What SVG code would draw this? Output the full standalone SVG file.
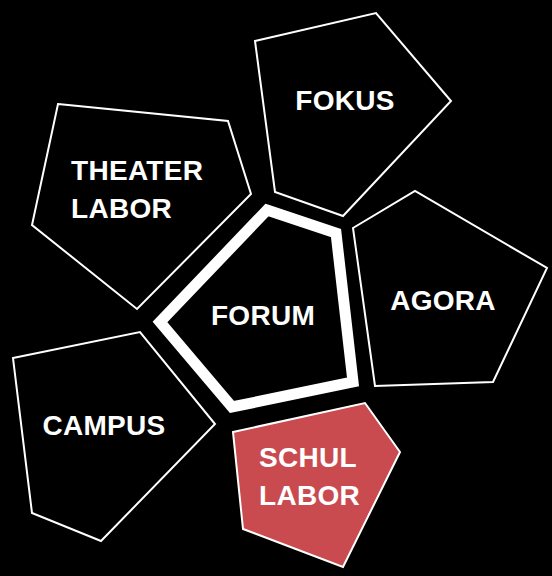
<svg xmlns="http://www.w3.org/2000/svg" width="552" height="576" viewBox="0 0 552 576">
<style>
.bg{fill:#000}
.cell{fill:#000;stroke:#fff;stroke-width:2;stroke-linejoin:miter}
.hot{fill:#c94b50;stroke:#fff;stroke-width:2}
.core{fill:#000;stroke:#fff;stroke-width:11;stroke-linejoin:miter}
.lbl{font-family:"Liberation Sans",Arial,sans-serif;font-weight:bold;font-size:28px;fill:#fff;letter-spacing:0.3px}
.mid{text-anchor:middle}
</style>
<rect class="bg" x="0" y="0" width="552" height="576"/>
<g id="theater-labor">
<polygon class="cell" points="58,104 228,121 251,194 137,309 32,225"/>
<text class="lbl" x="71" y="180">THEATER</text>
<text class="lbl" x="71" y="218">LABOR</text>
</g>
<g id="fokus">
<polygon class="cell" points="255,41 376,13 451,101 343,216 275,192"/>
<text class="lbl mid" x="345" y="110">FOKUS</text>
</g>
<g id="agora">
<polygon class="cell" points="353,228 415,191 547,268 493,382 375,386"/>
<text class="lbl mid" x="443" y="310">AGORA</text>
</g>
<g id="forum">
<polygon class="core" points="267,210 336,233 353,382 232,407 160,322"/>
<text class="lbl mid" x="263" y="325">FORUM</text>
</g>
<g id="campus">
<polygon class="cell" points="13,358 140,332 215,424 101,541 32,513"/>
<text class="lbl mid" x="104" y="435">CAMPUS</text>
</g>
<g id="schul-labor">
<polygon class="hot" points="233,432 365,403 400,452 343,567 243,529"/>
<text class="lbl" x="259" y="467">SCHUL</text>
<text class="lbl" x="259" y="505">LABOR</text>
</g>
<g id="connectors"></g>
</svg>
